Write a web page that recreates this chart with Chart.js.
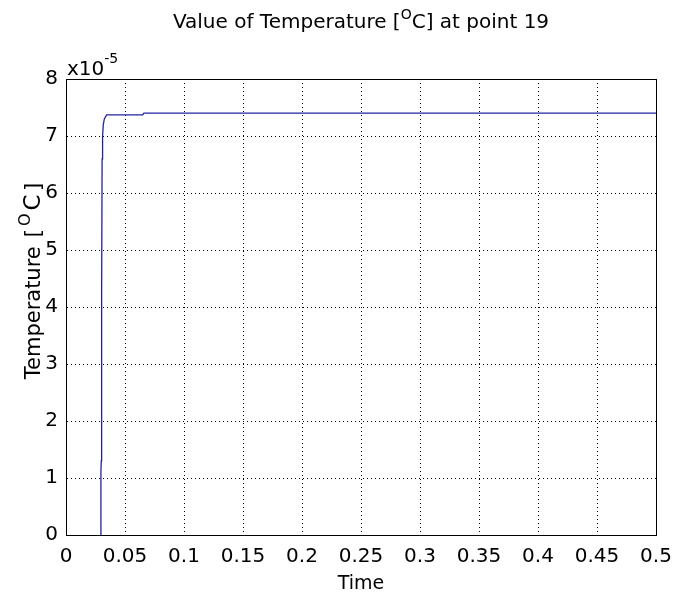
<!DOCTYPE html>
<html>
<head>
<meta charset="utf-8">
<script src="https://cdn.jsdelivr.net/npm/chart.js@4/dist/chart.umd.min.js"></script>
<style>
	html, body { margin: 0; padding: 0; background: #fff; }
	#tempChart { display: block; }
</style>
</head>
<body>
<canvas id="tempChart" width="677" height="601"></canvas>
<script>
// time values (s)
const timeValues = [0.0294, 0.0296, 0.0299, 0.0302, 0.0306, 0.0310, 0.0316, 0.0325, 0.0344, 0.065, 0.066, 0.5];
// temperature values, in units of 1e-5 degC
const tempValues = [0, 1.1, 1.3, 4.2, 6.6, 7.0, 7.2, 7.3, 7.37, 7.37, 7.40, 7.40];
const xTicks = [0, 0.05, 0.1, 0.15, 0.2, 0.25, 0.3, 0.35, 0.4, 0.45, 0.5];
const yTicks = [0, 1, 2, 3, 4, 5, 6, 7, 8];

const FONT = "'DejaVu Sans', Verdana, sans-serif";

document.addEventListener("DOMContentLoaded", function () {
	const ctx = document.getElementById("tempChart").getContext("2d");

	const points = timeValues.map(function (t, i) {
		return { x: t, y: tempValues[i] };
	});

	// texte avec exposant (ex: [°C])
	function drawSupText(c, parts, x, y, align) {
		let total = 0;
		parts.forEach(function (p) {
			c.font = p.size + "px " + FONT;
			total += c.measureText(p.text).width + (p.gap || 0);
		});
		let cx = align === "center" ? x - total / 2 : x;
		parts.forEach(function (p) {
			c.font = p.size + "px " + FONT;
			c.fillText(p.text, cx, y - (p.rise || 0));
			cx += c.measureText(p.text).width + (p.gap || 0);
		});
	}

	const decorPlugin = {
		id: "decor",
		afterDraw: function (chart) {
			const c = chart.ctx;
			const a = chart.chartArea;
			c.save();
			c.strokeStyle = "#000";
			c.lineWidth = 1;
			c.strokeRect(Math.round(a.left) + 0.5, Math.round(a.top) + 0.5, Math.round(a.right - a.left), Math.round(a.bottom - a.top));

			c.fillStyle = "#000";
			c.textBaseline = "alphabetic";
			c.textAlign = "left";
			// title
			drawSupText(c, [
				{ text: "Value of Temperature [", size: 20 },
				{ text: "O", size: 14, rise: 9 },
				{ text: "C] at point 19", size: 20 }
			], (a.left + a.right) / 2, 28, "center");

			// exponent label
			drawSupText(c, [
				{ text: "x10", size: 20 },
				{ text: "-5", size: 14, rise: 12 }
			], 67, 75, "left");

			// y title
			c.translate(40, 281);
			c.rotate(-Math.PI / 2);
			drawSupText(c, [
				{ text: "Temperature ", size: 21, gap: 2 },
				{ text: "[", size: 22, gap: 3 },
				{ text: "O", size: 16, rise: 10, gap: 3 },
				{ text: "C", size: 23, gap: 3 },
				{ text: "]", size: 22 }
			], 0, 0, "center");
			c.restore();
		}
	};

	const gridOpts = {
		color: "#000",
		lineWidth: 1,
		drawTicks: false
	};

	new Chart(ctx, {
		type: "scatter",
		data: {
			datasets: [
				{
					data: points,
					showLine: true,
					borderColor: "#2323a0",
					borderWidth: 1.3,
					pointRadius: 0,
					fill: false,
					tension: 0
				}
			]
		},
		options: {
			responsive: false,
			animation: false,
			layout: {
				padding: { left: 0, right: 21, top: 79, bottom: 0 }
			},
			plugins: {
				legend: { display: false },
				title: { display: false },
				tooltip: { enabled: false }
			},
			scales: {
				x: {
					type: "linear",
					min: 0,
					max: 0.5,
					afterBuildTicks: function (scale) {
						scale.ticks = xTicks.map(function (v) { return { value: v }; });
					},
					afterFit: function (scale) {
						scale.height = 66;
						scale.paddingLeft = 0;
						scale.paddingRight = 0;
					},
					ticks: {
						color: "#000",
						font: { family: FONT, size: 20 },
						padding: 10,
						maxRotation: 0,
						autoSkip: false,
						callback: function (v) { return String(+v.toFixed(2)); }
					},
					grid: gridOpts,
					border: { display: true, color: "#000", dash: [1, 3] },
					title: {
						display: true,
						text: "Time",
						color: "#000",
						font: { family: FONT, size: 19 },
						padding: { top: 0, bottom: 6 }
					}
				},
				y: {
					type: "linear",
					min: 0,
					max: 8,
					afterBuildTicks: function (scale) {
						scale.ticks = yTicks.map(function (v) { return { value: v }; });
					},
					afterFit: function (scale) {
						scale.width = 66;
						scale.paddingTop = 0;
						scale.paddingBottom = 0;
					},
					ticks: {
						color: "#000",
						font: { family: FONT, size: 20 },
						padding: 8,
						autoSkip: false,
						callback: function (v) { return String(v); }
					},
					grid: gridOpts,
					border: { display: true, color: "#000", dash: [1, 3] }
				}
			}
		},
		plugins: [decorPlugin]
	});
});
</script>
</body>
</html>
